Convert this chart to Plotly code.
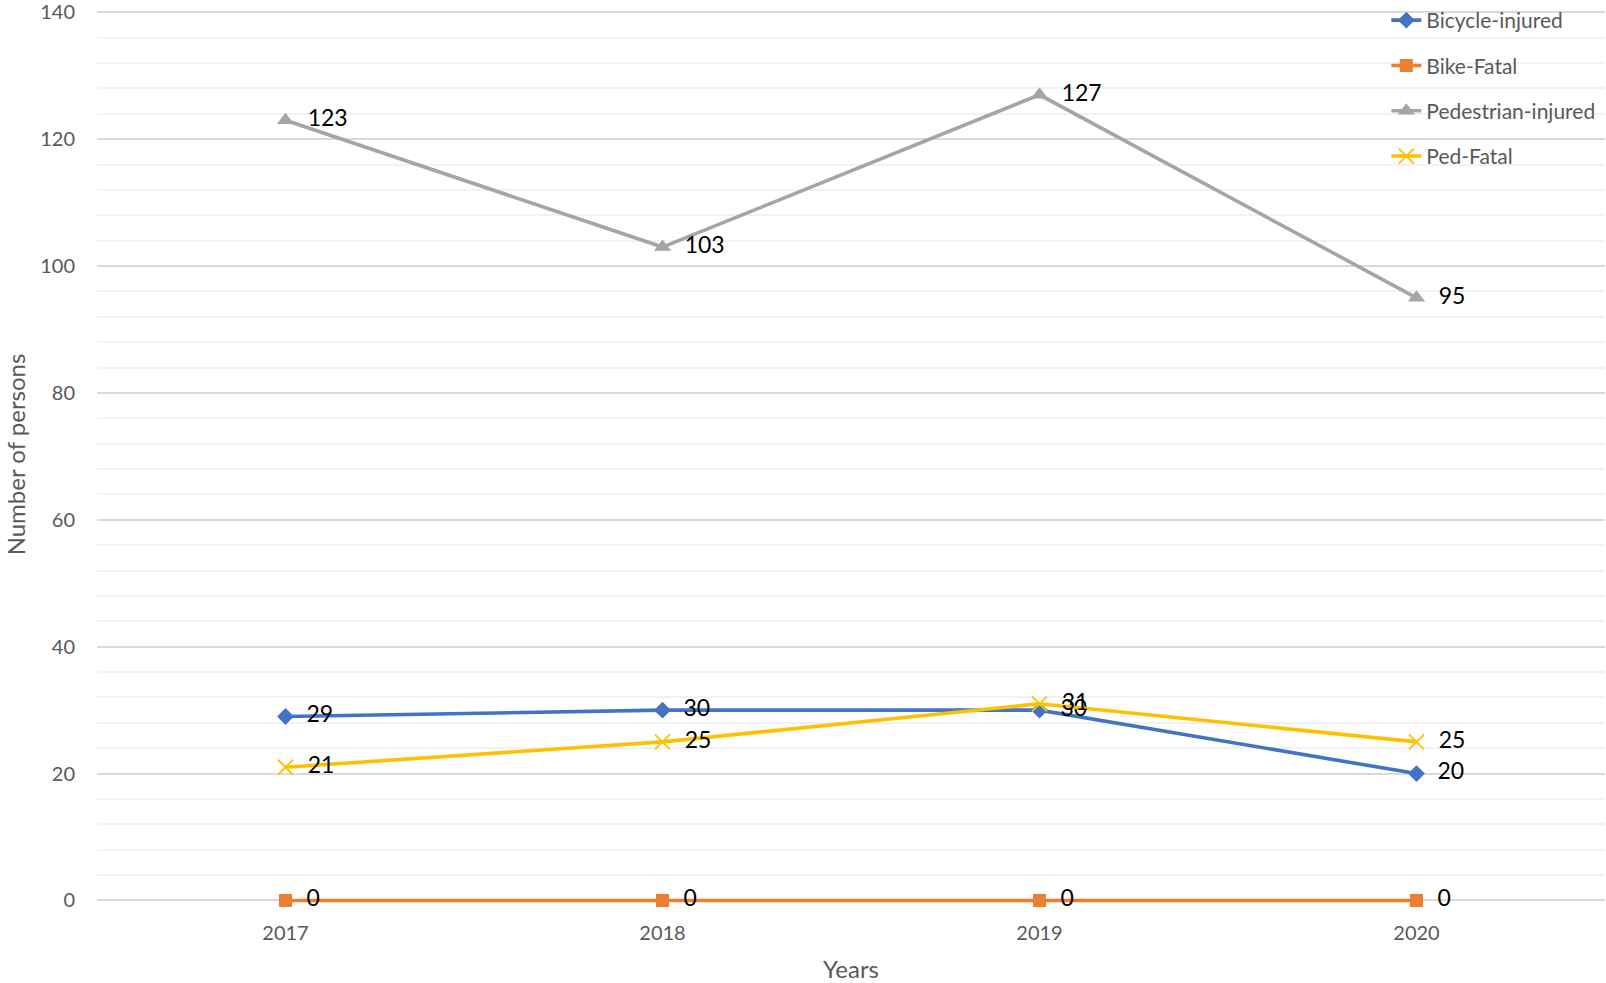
import plotly.graph_objects as go

years = ["2017", "2018", "2019", "2020"]
bicycle_injured = [29, 30, 30, 20]
bike_fatal = [0, 0, 0, 0]
pedestrian_injured = [123, 103, 127, 95]
ped_fatal = [21, 25, 31, 25]

series = [
    ("Bicycle-injured", bicycle_injured, "#4472C4", "diamond", 13),
    ("Bike-Fatal", bike_fatal, "#ED7D31", "square", 13),
    ("Pedestrian-injured", pedestrian_injured, "#A5A5A5", "triangle-up", 15),
    ("Ped-Fatal", ped_fatal, "#FFC000", "x-thin", 15),
]

FONT = "Lato, 'Open Sans', sans-serif"

fig = go.Figure()
for i, (name, vals, color, sym, size) in enumerate(series):
    marker = dict(symbol=sym, size=size, color=color)
    if sym == "x-thin":
        marker["line"] = dict(color=color, width=1.8)
    fig.add_trace(go.Scatter(
        x=years, y=vals, name=name, mode="lines+markers+text",
        line=dict(color=color, width=3.6),
        marker=marker,
        text=["  " + str(v) for v in vals],
        textposition="middle right",
        textfont=dict(family=FONT, size=23, color="#000000"),
        legendgroup=f"g{i}",
        cliponaxis=False,
    ))

fig.update_layout(
    width=1606, height=983,
    margin=dict(l=97, r=1, t=6, b=80, autoexpand=False),
    plot_bgcolor="white", paper_bgcolor="white",
    font=dict(family=FONT, color="#595959"),
    showlegend=True,
    legend=dict(
        x=0.855, y=1.0067, xanchor="left", yanchor="top",
        bgcolor="rgba(0,0,0,0)",
        font=dict(family=FONT, size=21, color="#595959"),
        traceorder="grouped", tracegroupgap=15,
    ),
    xaxis=dict(
        type="category", range=[-0.5, 3.5], automargin=False,
        showgrid=False, zeroline=False, showline=False,
        ticks="outside", ticklen=12, tickcolor="rgba(0,0,0,0)",
        tickfont=dict(family=FONT, size=20, color="#595959"),
        ticklabeloverflow="allow",
        title=dict(text="Years", font=dict(family=FONT, size=24, color="#595959"), standoff=19),
    ),
    yaxis=dict(
        range=[-0.4, 141], tick0=0, dtick=20, automargin=False,
        showgrid=True, gridcolor="#D9D9D9", gridwidth=1.5,
        minor=dict(tick0=0, dtick=4, showgrid=True, gridcolor="#F2F2F2", gridwidth=1.5),
        zeroline=False, showline=False,
        ticks="outside", ticklen=17, tickcolor="rgba(0,0,0,0)",
        tickfont=dict(family=FONT, size=20, color="#595959"),
        ticklabeloverflow="allow",
        title=dict(text="Number of persons", font=dict(family=FONT, size=24, color="#595959"), standoff=7),
    ),
)

fig.write_html("out.html", config={"displayModeBar": False},
               post_script="document.body.style.margin='0px';")
